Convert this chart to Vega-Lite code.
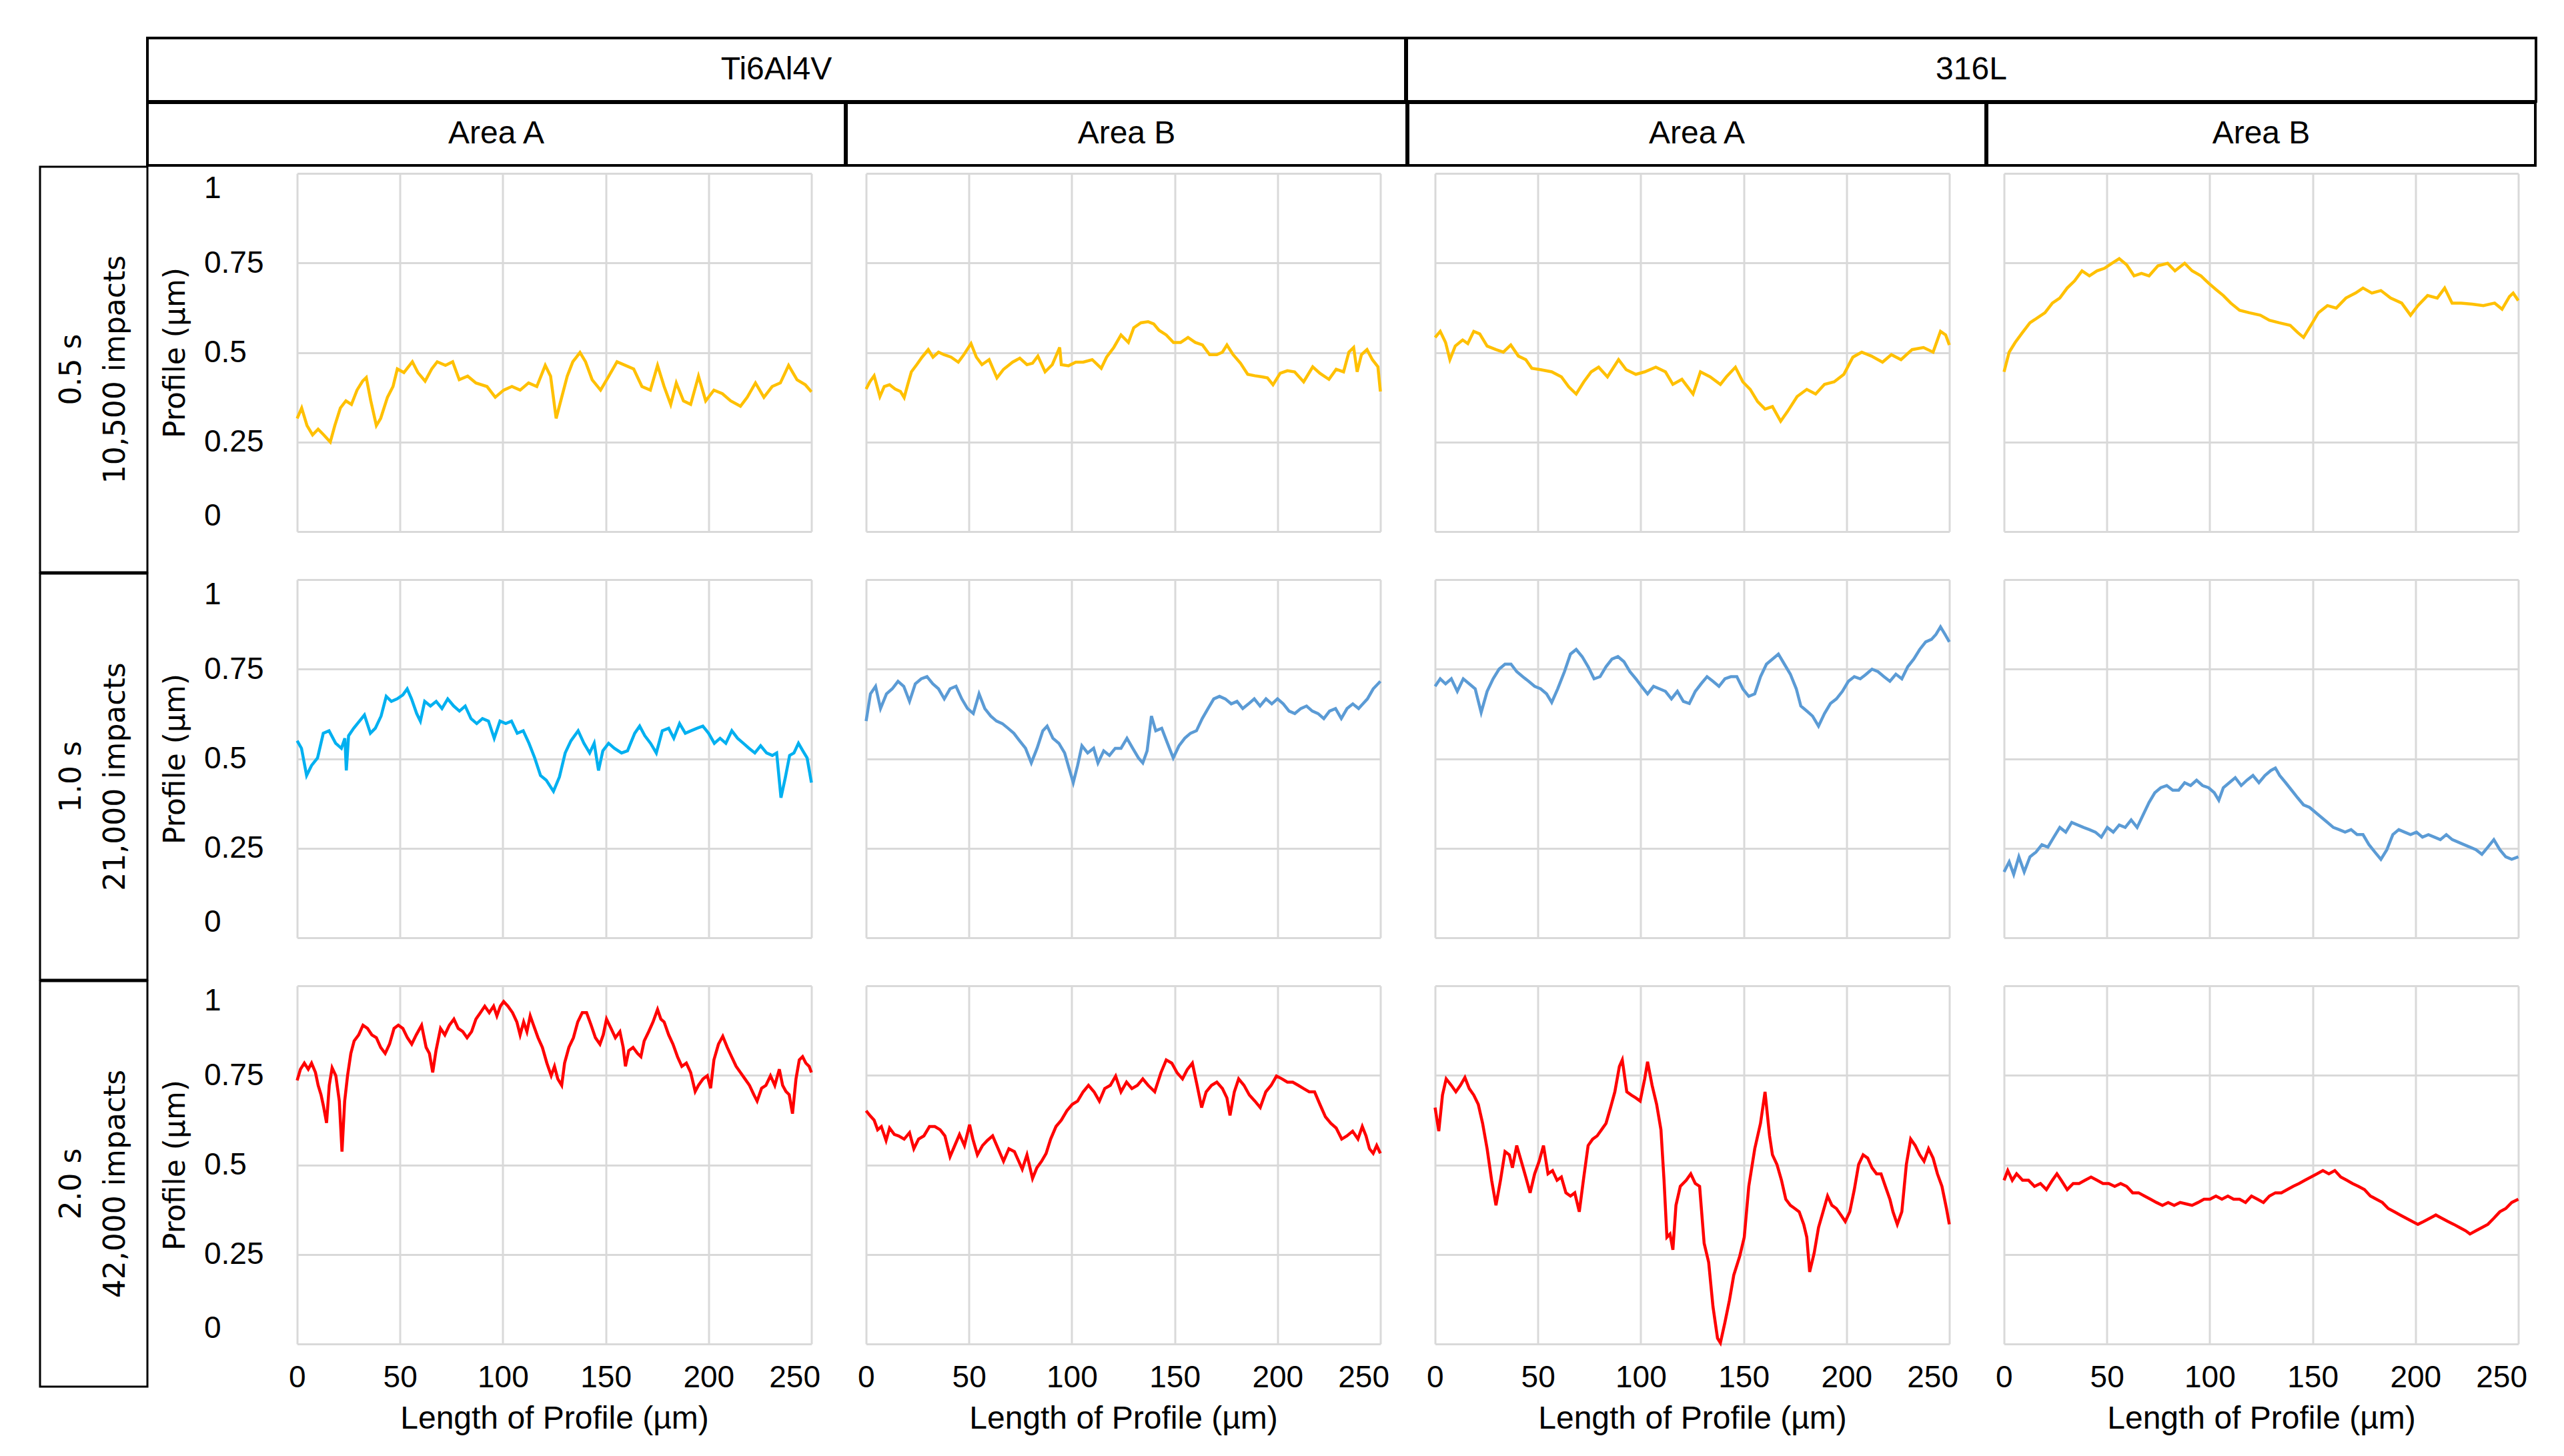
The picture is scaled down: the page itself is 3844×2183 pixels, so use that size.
{
"$schema": "https://vega.github.io/schema/vega-lite/v6.json",
"padding": {"left": 58, "top": 55, "right": 10, "bottom": 10},
"background": "white",
"config": {
  "view": {"stroke": null},
  "text": {"font": "Liberation Sans", "fontSize": 48, "color": "#000000"},
  "line": {"strokeWidth": 4.5},
  "axis": {"domain": false, "ticks": false, "tickSize": 0, "labels": false, "grid": true, "gridColor": "#d9d9d9", "gridWidth": 3, "labelFont": "Liberation Sans", "labelFontSize": 46, "labelColor": "#000000", "titleColor": "#000000", "titleFontWeight": "normal"},
  "axisX": {"titleFont": "Liberation Sans", "titleFontSize": 48, "titlePadding": 15},
  "axisY": {"titleFont": "DejaVu Sans", "titleFontSize": 44, "titlePadding": 20}
},
"datasets": {
"r1c1": [{"x":0,"y":0.316},{"x":2.2,"y":0.345},{"x":4.8,"y":0.296},{"x":7.5,"y":0.27},{"x":10.2,"y":0.286},{"x":12.9,"y":0.27},{"x":16.1,"y":0.25},{"x":18.3,"y":0.296},{"x":21,"y":0.345},{"x":23.7,"y":0.365},{"x":26.4,"y":0.355},{"x":29.1,"y":0.395},{"x":31.8,"y":0.42},{"x":33.6,"y":0.43},{"x":35.8,"y":0.365},{"x":38.5,"y":0.296},{"x":40.6,"y":0.316},{"x":43.9,"y":0.375},{"x":46.6,"y":0.405},{"x":48.7,"y":0.454},{"x":51.9,"y":0.444},{"x":56,"y":0.474},{"x":58.7,"y":0.444},{"x":62.2,"y":0.42},{"x":65.4,"y":0.454},{"x":68.1,"y":0.474},{"x":72.1,"y":0.464},{"x":75.6,"y":0.474},{"x":78.8,"y":0.424},{"x":82.9,"y":0.434},{"x":86.9,"y":0.415},{"x":92.3,"y":0.405},{"x":96.3,"y":0.375},{"x":100.4,"y":0.395},{"x":104.4,"y":0.405},{"x":108.4,"y":0.395},{"x":112.5,"y":0.415},{"x":116.5,"y":0.405},{"x":120.6,"y":0.464},{"x":123.2,"y":0.434},{"x":125.9,"y":0.316},{"x":128.6,"y":0.375},{"x":131.3,"y":0.434},{"x":134,"y":0.474},{"x":137.5,"y":0.5},{"x":140.2,"y":0.474},{"x":143.4,"y":0.424},{"x":147.5,"y":0.395},{"x":151.5,"y":0.434},{"x":155.5,"y":0.474},{"x":159.6,"y":0.464},{"x":163.6,"y":0.454},{"x":167.6,"y":0.405},{"x":171.7,"y":0.395},{"x":175.2,"y":0.464},{"x":178.4,"y":0.405},{"x":181.6,"y":0.355},{"x":184.3,"y":0.415},{"x":187.8,"y":0.365},{"x":191.3,"y":0.355},{"x":195.1,"y":0.434},{"x":198.6,"y":0.365},{"x":202.6,"y":0.395},{"x":206.7,"y":0.385},{"x":210.7,"y":0.365},{"x":215.5,"y":0.35},{"x":218.8,"y":0.375},{"x":222.8,"y":0.415},{"x":226.9,"y":0.375},{"x":230.9,"y":0.405},{"x":234.9,"y":0.415},{"x":238.9,"y":0.464},{"x":243,"y":0.424},{"x":247,"y":0.41},{"x":250,"y":0.39}],
"r1c2": [{"x":0,"y":0.398},{"x":1.8,"y":0.418},{"x":3.9,"y":0.435},{"x":6.7,"y":0.377},{"x":8.8,"y":0.405},{"x":11.4,"y":0.41},{"x":14.1,"y":0.398},{"x":16.7,"y":0.391},{"x":18.5,"y":0.374},{"x":20.2,"y":0.41},{"x":22,"y":0.446},{"x":24.6,"y":0.466},{"x":27.2,"y":0.487},{"x":30.2,"y":0.508},{"x":32.5,"y":0.487},{"x":35.2,"y":0.501},{"x":37.8,"y":0.494},{"x":41.3,"y":0.487},{"x":44.8,"y":0.473},{"x":47.5,"y":0.494},{"x":51,"y":0.525},{"x":53.6,"y":0.487},{"x":56.3,"y":0.466},{"x":59.8,"y":0.48},{"x":63.6,"y":0.429},{"x":66.8,"y":0.453},{"x":71.2,"y":0.473},{"x":74.7,"y":0.484},{"x":78.2,"y":0.466},{"x":80.9,"y":0.47},{"x":83.5,"y":0.49},{"x":87,"y":0.446},{"x":90.5,"y":0.466},{"x":94.1,"y":0.514},{"x":94.9,"y":0.466},{"x":98.4,"y":0.463},{"x":101.9,"y":0.473},{"x":105.5,"y":0.473},{"x":109.9,"y":0.48},{"x":114.3,"y":0.456},{"x":116.9,"y":0.487},{"x":120.4,"y":0.514},{"x":123.9,"y":0.549},{"x":127.5,"y":0.528},{"x":130.1,"y":0.569},{"x":133.6,"y":0.583},{"x":137.1,"y":0.586},{"x":139.8,"y":0.58},{"x":142.4,"y":0.562},{"x":145.9,"y":0.549},{"x":149.4,"y":0.528},{"x":152.9,"y":0.528},{"x":156.5,"y":0.542},{"x":160,"y":0.528},{"x":163.5,"y":0.521},{"x":167,"y":0.494},{"x":170.5,"y":0.494},{"x":173.2,"y":0.501},{"x":175.4,"y":0.521},{"x":178.4,"y":0.494},{"x":182,"y":0.47},{"x":185.5,"y":0.439},{"x":189,"y":0.435},{"x":192.5,"y":0.432},{"x":195.1,"y":0.429},{"x":197.8,"y":0.41},{"x":201.3,"y":0.442},{"x":204.8,"y":0.449},{"x":208.3,"y":0.446},{"x":212.7,"y":0.418},{"x":217.1,"y":0.46},{"x":220.6,"y":0.442},{"x":225,"y":0.425},{"x":228.5,"y":0.453},{"x":232.1,"y":0.446},{"x":234.7,"y":0.501},{"x":237,"y":0.514},{"x":238.7,"y":0.446},{"x":240.8,"y":0.494},{"x":243.5,"y":0.508},{"x":246.1,"y":0.48},{"x":248.8,"y":0.46},{"x":250,"y":0.391}],
"r1c3": [{"x":0,"y":0.542},{"x":2.5,"y":0.559},{"x":5.1,"y":0.528},{"x":7.2,"y":0.48},{"x":9.8,"y":0.518},{"x":13.4,"y":0.535},{"x":15.9,"y":0.525},{"x":18.8,"y":0.559},{"x":21.7,"y":0.552},{"x":25.3,"y":0.518},{"x":29.6,"y":0.508},{"x":33.2,"y":0.501},{"x":36.8,"y":0.521},{"x":40.5,"y":0.49},{"x":44.1,"y":0.48},{"x":47,"y":0.456},{"x":51.3,"y":0.452},{"x":56.7,"y":0.446},{"x":61.4,"y":0.432},{"x":65,"y":0.404},{"x":68.6,"y":0.384},{"x":72.3,"y":0.418},{"x":75.9,"y":0.446},{"x":79.5,"y":0.459},{"x":83.8,"y":0.432},{"x":89.2,"y":0.48},{"x":92.9,"y":0.452},{"x":97.6,"y":0.439},{"x":101.9,"y":0.446},{"x":107.3,"y":0.459},{"x":112,"y":0.446},{"x":115.6,"y":0.411},{"x":120,"y":0.425},{"x":125.4,"y":0.384},{"x":129,"y":0.446},{"x":133.7,"y":0.432},{"x":138.7,"y":0.411},{"x":141.6,"y":0.432},{"x":146,"y":0.459},{"x":149.6,"y":0.418},{"x":153.2,"y":0.397},{"x":156.8,"y":0.363},{"x":160.4,"y":0.342},{"x":164,"y":0.349},{"x":168,"y":0.308},{"x":171.3,"y":0.335},{"x":176,"y":0.377},{"x":180.7,"y":0.397},{"x":185,"y":0.384},{"x":189.3,"y":0.411},{"x":194,"y":0.418},{"x":198.7,"y":0.439},{"x":203.1,"y":0.487},{"x":207.4,"y":0.501},{"x":212.1,"y":0.49},{"x":217.5,"y":0.473},{"x":221.8,"y":0.494},{"x":226.5,"y":0.48},{"x":231.9,"y":0.508},{"x":237.4,"y":0.514},{"x":242.1,"y":0.501},{"x":245.7,"y":0.559},{"x":248.2,"y":0.549},{"x":250,"y":0.521}],
"r1c4": [{"x":0,"y":0.446},{"x":2.5,"y":0.501},{"x":5.4,"y":0.528},{"x":9,"y":0.556},{"x":12.6,"y":0.583},{"x":16.3,"y":0.597},{"x":19.9,"y":0.611},{"x":23.5,"y":0.638},{"x":27.1,"y":0.652},{"x":30.7,"y":0.68},{"x":34.3,"y":0.7},{"x":37.9,"y":0.728},{"x":41.5,"y":0.714},{"x":45.2,"y":0.728},{"x":48.8,"y":0.735},{"x":52.4,"y":0.749},{"x":56,"y":0.762},{"x":59.6,"y":0.745},{"x":63.2,"y":0.714},{"x":66.8,"y":0.721},{"x":70.5,"y":0.714},{"x":74.8,"y":0.742},{"x":79.5,"y":0.749},{"x":83.1,"y":0.728},{"x":87.8,"y":0.749},{"x":91.4,"y":0.728},{"x":95.7,"y":0.714},{"x":99.4,"y":0.694},{"x":103,"y":0.676},{"x":106.6,"y":0.659},{"x":110.2,"y":0.638},{"x":114.5,"y":0.618},{"x":119.2,"y":0.611},{"x":124.6,"y":0.604},{"x":129,"y":0.59},{"x":133.7,"y":0.583},{"x":139.1,"y":0.576},{"x":142.7,"y":0.556},{"x":145.6,"y":0.542},{"x":149.2,"y":0.576},{"x":152.8,"y":0.611},{"x":157.2,"y":0.631},{"x":161.5,"y":0.624},{"x":166.2,"y":0.652},{"x":170.9,"y":0.666},{"x":174.5,"y":0.68},{"x":178.8,"y":0.666},{"x":183.2,"y":0.673},{"x":187.9,"y":0.652},{"x":193.3,"y":0.638},{"x":197.6,"y":0.604},{"x":201.2,"y":0.631},{"x":205.9,"y":0.659},{"x":210.6,"y":0.652},{"x":214.2,"y":0.68},{"x":217.8,"y":0.638},{"x":222.2,"y":0.638},{"x":227.6,"y":0.635},{"x":233,"y":0.631},{"x":238.5,"y":0.638},{"x":242.1,"y":0.621},{"x":245.7,"y":0.656},{"x":247.5,"y":0.666},{"x":250,"y":0.645}],
"r2c1": [{"x":0,"y":0.55},{"x":2.1,"y":0.529},{"x":4.6,"y":0.453},{"x":7,"y":0.481},{"x":9.9,"y":0.502},{"x":12.7,"y":0.571},{"x":15.5,"y":0.578},{"x":18.7,"y":0.543},{"x":21.5,"y":0.529},{"x":23.2,"y":0.557},{"x":23.9,"y":0.467},{"x":25,"y":0.564},{"x":27.5,"y":0.585},{"x":30.3,"y":0.605},{"x":32.7,"y":0.622},{"x":35.6,"y":0.571},{"x":38,"y":0.585},{"x":40.8,"y":0.619},{"x":43.3,"y":0.674},{"x":45.8,"y":0.66},{"x":48.6,"y":0.667},{"x":51.4,"y":0.678},{"x":53.5,"y":0.695},{"x":55.6,"y":0.667},{"x":58.1,"y":0.626},{"x":59.9,"y":0.605},{"x":62,"y":0.66},{"x":64.8,"y":0.647},{"x":67.6,"y":0.66},{"x":70.4,"y":0.64},{"x":73.2,"y":0.667},{"x":76.1,"y":0.647},{"x":78.9,"y":0.633},{"x":81.7,"y":0.647},{"x":84.5,"y":0.612},{"x":87.3,"y":0.598},{"x":90.1,"y":0.612},{"x":93,"y":0.605},{"x":95.8,"y":0.557},{"x":98.6,"y":0.605},{"x":101.4,"y":0.598},{"x":104.2,"y":0.605},{"x":107,"y":0.571},{"x":109.9,"y":0.578},{"x":112.7,"y":0.543},{"x":115.5,"y":0.502},{"x":118.3,"y":0.453},{"x":121.1,"y":0.44},{"x":124.6,"y":0.409},{"x":127.5,"y":0.449},{"x":130.3,"y":0.516},{"x":133.1,"y":0.55},{"x":136.6,"y":0.578},{"x":139.4,"y":0.543},{"x":142.2,"y":0.516},{"x":144.4,"y":0.543},{"x":146.5,"y":0.467},{"x":148.6,"y":0.522},{"x":151.4,"y":0.543},{"x":154.2,"y":0.529},{"x":157.7,"y":0.516},{"x":160.6,"y":0.522},{"x":164.1,"y":0.571},{"x":166.5,"y":0.591},{"x":169,"y":0.564},{"x":171.8,"y":0.543},{"x":174.6,"y":0.516},{"x":177.5,"y":0.578},{"x":180.6,"y":0.585},{"x":183.1,"y":0.557},{"x":185.9,"y":0.598},{"x":188.7,"y":0.571},{"x":191.5,"y":0.578},{"x":194.4,"y":0.585},{"x":197.2,"y":0.591},{"x":200,"y":0.571},{"x":202.8,"y":0.543},{"x":205.6,"y":0.557},{"x":208.4,"y":0.543},{"x":211.3,"y":0.578},{"x":214.1,"y":0.557},{"x":216.9,"y":0.543},{"x":219.7,"y":0.529},{"x":222.5,"y":0.516},{"x":225.3,"y":0.536},{"x":228.2,"y":0.516},{"x":231,"y":0.509},{"x":233.1,"y":0.516},{"x":235.2,"y":0.391},{"x":237.3,"y":0.447},{"x":239.4,"y":0.509},{"x":241.5,"y":0.516},{"x":243.7,"y":0.543},{"x":245.8,"y":0.522},{"x":247.9,"y":0.502},{"x":250,"y":0.433}],
"r2c2": [{"x":0,"y":0.605},{"x":2.1,"y":0.681},{"x":4.6,"y":0.702},{"x":7,"y":0.64},{"x":9.9,"y":0.681},{"x":12.7,"y":0.695},{"x":15.5,"y":0.716},{"x":18.3,"y":0.702},{"x":21.1,"y":0.66},{"x":23.9,"y":0.709},{"x":26.8,"y":0.723},{"x":29.6,"y":0.729},{"x":32.4,"y":0.709},{"x":35.2,"y":0.695},{"x":38,"y":0.667},{"x":40.8,"y":0.695},{"x":43.7,"y":0.702},{"x":46.5,"y":0.667},{"x":49.3,"y":0.64},{"x":52.1,"y":0.626},{"x":54.9,"y":0.681},{"x":57.7,"y":0.64},{"x":60.6,"y":0.619},{"x":63.4,"y":0.605},{"x":66.2,"y":0.598},{"x":69,"y":0.585},{"x":71.8,"y":0.571},{"x":74.6,"y":0.55},{"x":77.5,"y":0.529},{"x":80.3,"y":0.488},{"x":83.1,"y":0.529},{"x":85.9,"y":0.578},{"x":88,"y":0.591},{"x":90.8,"y":0.557},{"x":93.7,"y":0.543},{"x":96.5,"y":0.516},{"x":98.6,"y":0.474},{"x":100.7,"y":0.433},{"x":102.8,"y":0.481},{"x":104.9,"y":0.536},{"x":107.7,"y":0.516},{"x":110.6,"y":0.529},{"x":112.7,"y":0.488},{"x":115.5,"y":0.522},{"x":118.3,"y":0.509},{"x":121.1,"y":0.529},{"x":123.9,"y":0.529},{"x":126.8,"y":0.557},{"x":129.6,"y":0.529},{"x":132.4,"y":0.502},{"x":134.5,"y":0.488},{"x":136.6,"y":0.522},{"x":138.7,"y":0.619},{"x":140.8,"y":0.578},{"x":143.7,"y":0.585},{"x":146.5,"y":0.543},{"x":149.3,"y":0.502},{"x":152.1,"y":0.536},{"x":154.9,"y":0.557},{"x":157.7,"y":0.571},{"x":160.6,"y":0.578},{"x":163.4,"y":0.612},{"x":166.2,"y":0.64},{"x":169,"y":0.667},{"x":171.8,"y":0.674},{"x":174.6,"y":0.667},{"x":177.5,"y":0.653},{"x":180.3,"y":0.66},{"x":183.1,"y":0.64},{"x":185.9,"y":0.653},{"x":188.7,"y":0.667},{"x":191.5,"y":0.647},{"x":194.4,"y":0.667},{"x":197.2,"y":0.653},{"x":200,"y":0.667},{"x":202.8,"y":0.653},{"x":205.6,"y":0.633},{"x":208.4,"y":0.626},{"x":211.3,"y":0.64},{"x":214.1,"y":0.647},{"x":216.9,"y":0.633},{"x":219.7,"y":0.626},{"x":222.5,"y":0.612},{"x":225.3,"y":0.633},{"x":228.2,"y":0.64},{"x":231,"y":0.612},{"x":233.8,"y":0.64},{"x":236.6,"y":0.653},{"x":239.4,"y":0.64},{"x":241.5,"y":0.653},{"x":243.7,"y":0.667},{"x":246.5,"y":0.695},{"x":250,"y":0.716}],
"r2c3": [{"x":0,"y":0.702},{"x":2.5,"y":0.723},{"x":5.1,"y":0.709},{"x":7.9,"y":0.723},{"x":10.8,"y":0.688},{"x":13.7,"y":0.723},{"x":16.6,"y":0.709},{"x":19.5,"y":0.695},{"x":22.4,"y":0.629},{"x":25.3,"y":0.688},{"x":28.2,"y":0.723},{"x":31.1,"y":0.75},{"x":34,"y":0.764},{"x":36.9,"y":0.764},{"x":39.7,"y":0.743},{"x":42.6,"y":0.729},{"x":45.5,"y":0.716},{"x":48.4,"y":0.702},{"x":51.3,"y":0.695},{"x":54.2,"y":0.681},{"x":56.7,"y":0.657},{"x":59.6,"y":0.695},{"x":62.9,"y":0.743},{"x":65.8,"y":0.792},{"x":68.6,"y":0.805},{"x":71.5,"y":0.785},{"x":74.4,"y":0.757},{"x":77.3,"y":0.723},{"x":80.2,"y":0.729},{"x":83.1,"y":0.757},{"x":86,"y":0.778},{"x":88.9,"y":0.785},{"x":91.8,"y":0.771},{"x":94.7,"y":0.743},{"x":97.6,"y":0.723},{"x":100.4,"y":0.702},{"x":103.3,"y":0.681},{"x":106.2,"y":0.702},{"x":109.1,"y":0.695},{"x":112,"y":0.688},{"x":114.9,"y":0.667},{"x":117.8,"y":0.688},{"x":120.7,"y":0.66},{"x":123.6,"y":0.654},{"x":126.5,"y":0.688},{"x":129.3,"y":0.709},{"x":132.2,"y":0.729},{"x":135.1,"y":0.716},{"x":138,"y":0.702},{"x":140.9,"y":0.723},{"x":143.8,"y":0.729},{"x":146.7,"y":0.729},{"x":149.6,"y":0.695},{"x":152.5,"y":0.674},{"x":155.4,"y":0.681},{"x":158.2,"y":0.729},{"x":161.1,"y":0.764},{"x":164,"y":0.778},{"x":166.9,"y":0.792},{"x":169.8,"y":0.764},{"x":172.7,"y":0.736},{"x":175.6,"y":0.695},{"x":177.8,"y":0.647},{"x":180.7,"y":0.633},{"x":183.5,"y":0.619},{"x":186.4,"y":0.591},{"x":189.3,"y":0.626},{"x":192.2,"y":0.654},{"x":195.1,"y":0.667},{"x":198,"y":0.688},{"x":200.9,"y":0.716},{"x":203.8,"y":0.729},{"x":206.7,"y":0.723},{"x":209.6,"y":0.736},{"x":212.4,"y":0.75},{"x":215.3,"y":0.743},{"x":218.2,"y":0.729},{"x":221.1,"y":0.716},{"x":224,"y":0.736},{"x":226.9,"y":0.723},{"x":229.8,"y":0.757},{"x":232.7,"y":0.778},{"x":235.6,"y":0.805},{"x":238.5,"y":0.826},{"x":241.3,"y":0.833},{"x":243.5,"y":0.847},{"x":245.7,"y":0.868},{"x":247.9,"y":0.847},{"x":250,"y":0.826}],
"r2c4": [{"x":0,"y":0.184},{"x":2.5,"y":0.212},{"x":4.7,"y":0.177},{"x":7.2,"y":0.226},{"x":9.8,"y":0.184},{"x":12.6,"y":0.226},{"x":15.5,"y":0.239},{"x":18.4,"y":0.26},{"x":21.3,"y":0.253},{"x":24.2,"y":0.281},{"x":27.1,"y":0.308},{"x":30,"y":0.295},{"x":32.9,"y":0.322},{"x":35.8,"y":0.315},{"x":38.7,"y":0.308},{"x":41.5,"y":0.302},{"x":44.4,"y":0.295},{"x":47.3,"y":0.281},{"x":50.2,"y":0.308},{"x":53.1,"y":0.295},{"x":56,"y":0.315},{"x":58.9,"y":0.308},{"x":61.8,"y":0.329},{"x":64.7,"y":0.308},{"x":67.6,"y":0.343},{"x":70.5,"y":0.378},{"x":73.3,"y":0.405},{"x":76.2,"y":0.419},{"x":79.1,"y":0.425},{"x":82,"y":0.412},{"x":84.9,"y":0.412},{"x":87.8,"y":0.433},{"x":90.7,"y":0.425},{"x":93.6,"y":0.44},{"x":96.5,"y":0.425},{"x":99.4,"y":0.419},{"x":102.2,"y":0.405},{"x":104.4,"y":0.384},{"x":106.6,"y":0.419},{"x":109.5,"y":0.433},{"x":112.4,"y":0.447},{"x":115.3,"y":0.425},{"x":118.1,"y":0.44},{"x":121,"y":0.453},{"x":123.9,"y":0.433},{"x":126.8,"y":0.453},{"x":129.7,"y":0.467},{"x":131.9,"y":0.474},{"x":134,"y":0.453},{"x":136.9,"y":0.433},{"x":139.8,"y":0.412},{"x":142.7,"y":0.391},{"x":145.6,"y":0.371},{"x":148.5,"y":0.364},{"x":151.4,"y":0.35},{"x":154.3,"y":0.336},{"x":157.2,"y":0.322},{"x":160.1,"y":0.308},{"x":162.9,"y":0.302},{"x":165.8,"y":0.295},{"x":168.7,"y":0.302},{"x":171.6,"y":0.288},{"x":174.5,"y":0.288},{"x":177.4,"y":0.26},{"x":180.3,"y":0.239},{"x":183.2,"y":0.219},{"x":186.1,"y":0.246},{"x":189,"y":0.288},{"x":191.9,"y":0.302},{"x":194.7,"y":0.295},{"x":197.6,"y":0.288},{"x":200.5,"y":0.295},{"x":203.4,"y":0.281},{"x":206.3,"y":0.288},{"x":209.2,"y":0.281},{"x":212.1,"y":0.274},{"x":215,"y":0.288},{"x":217.9,"y":0.274},{"x":220.8,"y":0.267},{"x":223.6,"y":0.26},{"x":226.5,"y":0.253},{"x":229.4,"y":0.246},{"x":232.3,"y":0.233},{"x":235.2,"y":0.253},{"x":238.1,"y":0.274},{"x":241,"y":0.246},{"x":243.9,"y":0.226},{"x":246.8,"y":0.219},{"x":250,"y":0.226}],
"r3c1": [{"x":0,"y":0.736},{"x":1.6,"y":0.767},{"x":3.5,"y":0.784},{"x":5.4,"y":0.767},{"x":7,"y":0.784},{"x":8.9,"y":0.758},{"x":10.2,"y":0.722},{"x":11.6,"y":0.696},{"x":12.9,"y":0.661},{"x":14.3,"y":0.617},{"x":15.6,"y":0.722},{"x":17,"y":0.771},{"x":18.8,"y":0.749},{"x":20.5,"y":0.678},{"x":21.8,"y":0.537},{"x":23.1,"y":0.678},{"x":24.5,"y":0.749},{"x":26.1,"y":0.811},{"x":27.7,"y":0.846},{"x":29.9,"y":0.863},{"x":32,"y":0.89},{"x":34.2,"y":0.881},{"x":36.3,"y":0.863},{"x":38.5,"y":0.855},{"x":40.6,"y":0.828},{"x":42.8,"y":0.811},{"x":44.9,"y":0.837},{"x":47.1,"y":0.881},{"x":49.2,"y":0.89},{"x":51.4,"y":0.881},{"x":53.6,"y":0.855},{"x":55.7,"y":0.837},{"x":57.9,"y":0.863},{"x":60.5,"y":0.89},{"x":62.7,"y":0.828},{"x":64.3,"y":0.811},{"x":65.9,"y":0.758},{"x":67.5,"y":0.819},{"x":69.7,"y":0.881},{"x":71.8,"y":0.863},{"x":74,"y":0.89},{"x":76.2,"y":0.907},{"x":78.3,"y":0.881},{"x":80.5,"y":0.872},{"x":82.6,"y":0.855},{"x":84.8,"y":0.872},{"x":86.9,"y":0.907},{"x":89.1,"y":0.925},{"x":91.2,"y":0.943},{"x":93.4,"y":0.925},{"x":95.5,"y":0.943},{"x":97.1,"y":0.916},{"x":98.8,"y":0.943},{"x":100.4,"y":0.956},{"x":102.5,"y":0.943},{"x":104.7,"y":0.925},{"x":106.8,"y":0.899},{"x":108.4,"y":0.863},{"x":110.1,"y":0.899},{"x":111.7,"y":0.872},{"x":113.3,"y":0.916},{"x":114.9,"y":0.89},{"x":117.1,"y":0.855},{"x":119.2,"y":0.828},{"x":121.4,"y":0.784},{"x":123.5,"y":0.749},{"x":125.1,"y":0.775},{"x":126.7,"y":0.74},{"x":128.6,"y":0.722},{"x":130,"y":0.784},{"x":132.1,"y":0.828},{"x":134.3,"y":0.855},{"x":136.4,"y":0.899},{"x":138.6,"y":0.925},{"x":140.7,"y":0.925},{"x":142.9,"y":0.89},{"x":145,"y":0.855},{"x":147.2,"y":0.837},{"x":148.8,"y":0.863},{"x":150.4,"y":0.907},{"x":152.6,"y":0.881},{"x":154.7,"y":0.855},{"x":156.9,"y":0.872},{"x":158.5,"y":0.828},{"x":159.6,"y":0.775},{"x":161.2,"y":0.819},{"x":163.3,"y":0.828},{"x":165.5,"y":0.811},{"x":167.1,"y":0.802},{"x":168.7,"y":0.846},{"x":170.9,"y":0.872},{"x":173,"y":0.899},{"x":175.2,"y":0.934},{"x":176.8,"y":0.907},{"x":178.4,"y":0.899},{"x":180.6,"y":0.863},{"x":182.7,"y":0.837},{"x":184.9,"y":0.802},{"x":187,"y":0.775},{"x":189.2,"y":0.784},{"x":191.3,"y":0.758},{"x":193.5,"y":0.705},{"x":195.1,"y":0.722},{"x":197.3,"y":0.74},{"x":199.4,"y":0.749},{"x":201,"y":0.714},{"x":202.6,"y":0.793},{"x":204.8,"y":0.837},{"x":206.9,"y":0.859},{"x":209.1,"y":0.828},{"x":211.2,"y":0.802},{"x":213.4,"y":0.775},{"x":215.5,"y":0.758},{"x":217.7,"y":0.74},{"x":219.9,"y":0.722},{"x":222,"y":0.696},{"x":223.6,"y":0.678},{"x":225.8,"y":0.714},{"x":227.9,"y":0.722},{"x":230.1,"y":0.749},{"x":232.2,"y":0.722},{"x":234.4,"y":0.767},{"x":236,"y":0.722},{"x":237.6,"y":0.705},{"x":239.2,"y":0.696},{"x":240.8,"y":0.643},{"x":242.5,"y":0.74},{"x":244.1,"y":0.793},{"x":245.7,"y":0.802},{"x":247.3,"y":0.784},{"x":248.9,"y":0.775},{"x":250,"y":0.758}],
"r3c2": [{"x":0,"y":0.651},{"x":1.8,"y":0.638},{"x":3.9,"y":0.625},{"x":5.6,"y":0.598},{"x":7.4,"y":0.607},{"x":9.7,"y":0.568},{"x":11.4,"y":0.603},{"x":13.7,"y":0.585},{"x":15.8,"y":0.581},{"x":18.5,"y":0.572},{"x":21.1,"y":0.59},{"x":23.2,"y":0.545},{"x":25.5,"y":0.572},{"x":28.1,"y":0.581},{"x":30.8,"y":0.607},{"x":33.4,"y":0.607},{"x":36,"y":0.598},{"x":38.3,"y":0.581},{"x":40.8,"y":0.523},{"x":43.1,"y":0.554},{"x":45.4,"y":0.585},{"x":47.8,"y":0.554},{"x":50.3,"y":0.612},{"x":51.9,"y":0.572},{"x":54.1,"y":0.528},{"x":56.6,"y":0.554},{"x":58.9,"y":0.568},{"x":61.5,"y":0.581},{"x":64.2,"y":0.545},{"x":66.8,"y":0.51},{"x":69.4,"y":0.545},{"x":72.1,"y":0.537},{"x":74.2,"y":0.51},{"x":75.9,"y":0.488},{"x":78.2,"y":0.528},{"x":80.9,"y":0.462},{"x":83,"y":0.492},{"x":85.3,"y":0.51},{"x":87.5,"y":0.532},{"x":89.7,"y":0.572},{"x":92.3,"y":0.607},{"x":94.9,"y":0.625},{"x":97.6,"y":0.651},{"x":100.2,"y":0.669},{"x":102.8,"y":0.678},{"x":105.5,"y":0.704},{"x":108.1,"y":0.722},{"x":110.8,"y":0.704},{"x":113.4,"y":0.678},{"x":116,"y":0.713},{"x":118.7,"y":0.722},{"x":121.3,"y":0.748},{"x":123.9,"y":0.704},{"x":126.6,"y":0.731},{"x":129.2,"y":0.713},{"x":131.9,"y":0.722},{"x":134.5,"y":0.74},{"x":137.1,"y":0.722},{"x":140.3,"y":0.704},{"x":143.3,"y":0.757},{"x":145.9,"y":0.793},{"x":148.6,"y":0.784},{"x":151.2,"y":0.757},{"x":153.8,"y":0.74},{"x":156.1,"y":0.766},{"x":158.6,"y":0.784},{"x":160.9,"y":0.722},{"x":163.1,"y":0.66},{"x":165.3,"y":0.704},{"x":167.9,"y":0.722},{"x":170.5,"y":0.731},{"x":173.2,"y":0.713},{"x":175.4,"y":0.687},{"x":176.9,"y":0.638},{"x":179,"y":0.704},{"x":181.1,"y":0.74},{"x":183.7,"y":0.722},{"x":186.3,"y":0.695},{"x":189,"y":0.678},{"x":191.6,"y":0.66},{"x":194.3,"y":0.704},{"x":196.9,"y":0.722},{"x":199.5,"y":0.748},{"x":202.2,"y":0.74},{"x":204.8,"y":0.731},{"x":207.4,"y":0.731},{"x":210.1,"y":0.722},{"x":212.7,"y":0.713},{"x":215.4,"y":0.704},{"x":218,"y":0.704},{"x":220.6,"y":0.669},{"x":223.3,"y":0.634},{"x":225.9,"y":0.616},{"x":228.5,"y":0.603},{"x":231.2,"y":0.572},{"x":233.8,"y":0.581},{"x":236.5,"y":0.594},{"x":239.1,"y":0.572},{"x":241.2,"y":0.607},{"x":243,"y":0.581},{"x":244.7,"y":0.545},{"x":246.5,"y":0.532},{"x":248.2,"y":0.554},{"x":250,"y":0.532}],
"r3c3": [{"x":0,"y":0.66},{"x":1.8,"y":0.594},{"x":3.6,"y":0.695},{"x":5.4,"y":0.74},{"x":7.9,"y":0.722},{"x":10.1,"y":0.704},{"x":12.3,"y":0.722},{"x":14.5,"y":0.744},{"x":16.6,"y":0.713},{"x":18.8,"y":0.695},{"x":21,"y":0.669},{"x":23.1,"y":0.616},{"x":25.3,"y":0.545},{"x":27.5,"y":0.457},{"x":29.6,"y":0.387},{"x":31.8,"y":0.457},{"x":34,"y":0.537},{"x":36.1,"y":0.528},{"x":37.6,"y":0.492},{"x":39.7,"y":0.554},{"x":41.9,"y":0.51},{"x":44.1,"y":0.466},{"x":46.2,"y":0.422},{"x":48.4,"y":0.475},{"x":50.6,"y":0.51},{"x":52.7,"y":0.554},{"x":54.9,"y":0.475},{"x":57.1,"y":0.484},{"x":59.3,"y":0.457},{"x":61.4,"y":0.466},{"x":63.6,"y":0.422},{"x":65.8,"y":0.413},{"x":67.9,"y":0.422},{"x":70.1,"y":0.369},{"x":72.3,"y":0.466},{"x":74.4,"y":0.554},{"x":76.6,"y":0.572},{"x":78.8,"y":0.581},{"x":80.9,"y":0.598},{"x":83.1,"y":0.616},{"x":85.3,"y":0.66},{"x":87.4,"y":0.704},{"x":89.6,"y":0.775},{"x":91,"y":0.793},{"x":93.2,"y":0.704},{"x":95.4,"y":0.695},{"x":97.6,"y":0.687},{"x":99.7,"y":0.678},{"x":101.9,"y":0.74},{"x":103.3,"y":0.788},{"x":105.5,"y":0.722},{"x":107.7,"y":0.669},{"x":109.8,"y":0.598},{"x":111.3,"y":0.457},{"x":112.7,"y":0.298},{"x":114.2,"y":0.307},{"x":115.6,"y":0.263},{"x":117.1,"y":0.387},{"x":119.2,"y":0.44},{"x":122.1,"y":0.457},{"x":124.3,"y":0.475},{"x":126.5,"y":0.448},{"x":128.6,"y":0.44},{"x":130.8,"y":0.281},{"x":133,"y":0.228},{"x":135.1,"y":0.104},{"x":137.3,"y":0.016},{"x":138.7,"y":0.003},{"x":140.9,"y":0.06},{"x":143.1,"y":0.122},{"x":145.2,"y":0.192},{"x":148.1,"y":0.245},{"x":150.3,"y":0.298},{"x":152.5,"y":0.44},{"x":155.4,"y":0.545},{"x":158.2,"y":0.616},{"x":160.4,"y":0.704},{"x":162.6,"y":0.581},{"x":164,"y":0.528},{"x":166.2,"y":0.501},{"x":168.4,"y":0.457},{"x":170.5,"y":0.404},{"x":172.7,"y":0.387},{"x":174.9,"y":0.378},{"x":177,"y":0.369},{"x":179.2,"y":0.334},{"x":180.7,"y":0.298},{"x":182.1,"y":0.201},{"x":184.3,"y":0.254},{"x":186.4,"y":0.325},{"x":188.6,"y":0.369},{"x":190.8,"y":0.413},{"x":192.9,"y":0.387},{"x":195.1,"y":0.378},{"x":197.3,"y":0.36},{"x":199.4,"y":0.342},{"x":201.6,"y":0.369},{"x":203.8,"y":0.431},{"x":205.9,"y":0.501},{"x":208.1,"y":0.528},{"x":210.3,"y":0.519},{"x":212.4,"y":0.492},{"x":214.6,"y":0.475},{"x":216.8,"y":0.475},{"x":218.9,"y":0.44},{"x":221.1,"y":0.404},{"x":222.6,"y":0.369},{"x":224.7,"y":0.334},{"x":226.9,"y":0.369},{"x":229.1,"y":0.501},{"x":231.2,"y":0.572},{"x":233.4,"y":0.554},{"x":235.6,"y":0.528},{"x":237.7,"y":0.51},{"x":239.9,"y":0.545},{"x":242.1,"y":0.519},{"x":244.2,"y":0.475},{"x":246.4,"y":0.44},{"x":248.6,"y":0.378},{"x":250,"y":0.334}],
"r3c4": [{"x":0,"y":0.457},{"x":1.8,"y":0.484},{"x":4,"y":0.457},{"x":6.1,"y":0.475},{"x":9,"y":0.457},{"x":11.9,"y":0.457},{"x":14.8,"y":0.44},{"x":17.7,"y":0.448},{"x":20.6,"y":0.431},{"x":23.5,"y":0.457},{"x":25.7,"y":0.475},{"x":27.8,"y":0.457},{"x":30.7,"y":0.431},{"x":33.6,"y":0.448},{"x":36.5,"y":0.448},{"x":39.4,"y":0.457},{"x":42.3,"y":0.466},{"x":45.2,"y":0.457},{"x":48.1,"y":0.448},{"x":50.9,"y":0.448},{"x":53.8,"y":0.44},{"x":56.7,"y":0.448},{"x":59.6,"y":0.44},{"x":62.5,"y":0.422},{"x":65.4,"y":0.422},{"x":68.3,"y":0.413},{"x":71.2,"y":0.404},{"x":74.1,"y":0.395},{"x":77,"y":0.387},{"x":79.8,"y":0.395},{"x":82.7,"y":0.387},{"x":85.6,"y":0.395},{"x":88.5,"y":0.391},{"x":91.4,"y":0.387},{"x":94.3,"y":0.395},{"x":97.2,"y":0.404},{"x":100.1,"y":0.404},{"x":103,"y":0.413},{"x":105.9,"y":0.404},{"x":108.8,"y":0.413},{"x":111.6,"y":0.404},{"x":114.5,"y":0.404},{"x":117.4,"y":0.395},{"x":120.3,"y":0.413},{"x":123.2,"y":0.404},{"x":126.1,"y":0.395},{"x":129,"y":0.413},{"x":131.9,"y":0.422},{"x":134.8,"y":0.422},{"x":137.7,"y":0.431},{"x":140.5,"y":0.44},{"x":143.4,"y":0.448},{"x":146.3,"y":0.457},{"x":149.2,"y":0.466},{"x":152.1,"y":0.475},{"x":155,"y":0.484},{"x":157.9,"y":0.475},{"x":160.8,"y":0.484},{"x":163.7,"y":0.466},{"x":166.6,"y":0.457},{"x":169.4,"y":0.448},{"x":172.3,"y":0.44},{"x":175.2,"y":0.431},{"x":178.1,"y":0.413},{"x":181,"y":0.404},{"x":183.9,"y":0.395},{"x":186.8,"y":0.378},{"x":189.7,"y":0.369},{"x":192.6,"y":0.36},{"x":195.5,"y":0.351},{"x":198.4,"y":0.342},{"x":201.2,"y":0.334},{"x":204.1,"y":0.342},{"x":207,"y":0.351},{"x":209.9,"y":0.36},{"x":212.8,"y":0.351},{"x":215.7,"y":0.342},{"x":218.6,"y":0.334},{"x":221.5,"y":0.325},{"x":224.4,"y":0.316},{"x":226.5,"y":0.307},{"x":229.4,"y":0.316},{"x":232.3,"y":0.325},{"x":235.2,"y":0.334},{"x":238.1,"y":0.351},{"x":241,"y":0.369},{"x":243.9,"y":0.378},{"x":246.8,"y":0.395},{"x":250,"y":0.404}]
},
"vconcat": [
  {"hconcat": [
    {"width": 161, "height": 189, "data": {"values": [{"t": ""}]}, "mark": {"type": "text", "fontSize": 1}, "encoding": {"text": {"field": "t"}}},
    {"vconcat": [
      {"hconcat": [
        {"width": 1886, "height": 95, "view": {"stroke": "#000000", "strokeWidth": 4}, "data": {"values": [{"t": "Ti6Al4V"}]}, "mark": "text", "encoding": {"text": {"field": "t"}}},
        {"width": 1693, "height": 95, "view": {"stroke": "#000000", "strokeWidth": 4}, "data": {"values": [{"t": "316L"}]}, "mark": "text", "encoding": {"text": {"field": "t"}}}
      ], "spacing": -4},
      {"hconcat": [
        {"width": 1046, "height": 94, "view": {"stroke": "#000000", "strokeWidth": 4}, "data": {"values": [{"t": "Area A"}]}, "mark": "text", "encoding": {"text": {"field": "t"}}},
        {"width": 840, "height": 94, "view": {"stroke": "#000000", "strokeWidth": 4}, "data": {"values": [{"t": "Area B"}]}, "mark": "text", "encoding": {"text": {"field": "t"}}},
        {"width": 866, "height": 94, "view": {"stroke": "#000000", "strokeWidth": 4}, "data": {"values": [{"t": "Area A"}]}, "mark": "text", "encoding": {"text": {"field": "t"}}},
        {"width": 822, "height": 94, "view": {"stroke": "#000000", "strokeWidth": 4}, "data": {"values": [{"t": "Area B"}]}, "mark": "text", "encoding": {"text": {"field": "t"}}}
      ], "spacing": -4}
    ], "spacing": -4}
  ], "spacing": -2},
  {"hconcat": [
    {"vconcat": [
      {"width": 161, "height": 608, "view": {"stroke": "#000000", "strokeWidth": 3}, "data": {"values": [{"t": ["0.5 s", "10,500 impacts"]}]}, "mark": {"type": "text", "angle": 270, "font": "DejaVu Sans", "fontSize": 44, "lineHeight": 66, "dy": -33}, "encoding": {"text": {"field": "t"}}},
      {"width": 161, "height": 609, "view": {"stroke": "#000000", "strokeWidth": 3}, "data": {"values": [{"t": ["1.0 s", "21,000 impacts"]}]}, "mark": {"type": "text", "angle": 270, "font": "DejaVu Sans", "fontSize": 44, "lineHeight": 66, "dy": -33}, "encoding": {"text": {"field": "t"}}},
      {"width": 161, "height": 608, "view": {"stroke": "#000000", "strokeWidth": 3}, "data": {"values": [{"t": ["2.0 s", "42,000 impacts"]}]}, "mark": {"type": "text", "angle": 270, "font": "DejaVu Sans", "fontSize": 44, "lineHeight": 66, "dy": -33}, "encoding": {"text": {"field": "t"}}}
    ], "spacing": -5},
    {"vconcat": [
      {"width": 1, "height": 1, "data": {"values": [{"t": ""}]}, "mark": {"type": "text", "fontSize": 1}, "encoding": {"text": {"field": "t"}}},
      {"concat": [
        {"width": 771, "height": 537, "data": {"name": "r1c1"}, "mark": {"type": "line", "color": "#ffc000"}, "encoding": {"x": {"field": "x", "type": "quantitative", "scale": {"domain": [0, 250]}, "axis": {"values": [0, 50, 100, 150, 200, 250], "title": null}}, "y": {"field": "y", "type": "quantitative", "scale": {"domain": [0, 1]}, "axis": {"values": [0, 0.25, 0.5, 0.75, 1], "labels": true, "labelExpr": "format(datum.value, '~g')", "labelAlign": "left", "labelPadding": 140, "labelFlush": true, "title": "Profile (µm)"}}}},
        {"width": 771, "height": 537, "data": {"name": "r1c2"}, "mark": {"type": "line", "color": "#ffc000"}, "encoding": {"x": {"field": "x", "type": "quantitative", "scale": {"domain": [0, 250]}, "axis": {"values": [0, 50, 100, 150, 200, 250], "title": null}}, "y": {"field": "y", "type": "quantitative", "scale": {"domain": [0, 1]}, "axis": {"values": [0, 0.25, 0.5, 0.75, 1], "title": null}}}},
        {"width": 771, "height": 537, "data": {"name": "r1c3"}, "mark": {"type": "line", "color": "#ffc000"}, "encoding": {"x": {"field": "x", "type": "quantitative", "scale": {"domain": [0, 250]}, "axis": {"values": [0, 50, 100, 150, 200, 250], "title": null}}, "y": {"field": "y", "type": "quantitative", "scale": {"domain": [0, 1]}, "axis": {"values": [0, 0.25, 0.5, 0.75, 1], "title": null}}}},
        {"width": 771, "height": 537, "data": {"name": "r1c4"}, "mark": {"type": "line", "color": "#ffc000"}, "encoding": {"x": {"field": "x", "type": "quantitative", "scale": {"domain": [0, 250]}, "axis": {"values": [0, 50, 100, 150, 200, 250], "title": null}}, "y": {"field": "y", "type": "quantitative", "scale": {"domain": [0, 1]}, "axis": {"values": [0, 0.25, 0.5, 0.75, 1], "title": null}}}},
        {"width": 771, "height": 537, "data": {"name": "r2c1"}, "mark": {"type": "line", "color": "#00b0f0"}, "encoding": {"x": {"field": "x", "type": "quantitative", "scale": {"domain": [0, 250]}, "axis": {"values": [0, 50, 100, 150, 200, 250], "title": null}}, "y": {"field": "y", "type": "quantitative", "scale": {"domain": [0, 1]}, "axis": {"values": [0, 0.25, 0.5, 0.75, 1], "labels": true, "labelExpr": "format(datum.value, '~g')", "labelAlign": "left", "labelPadding": 140, "labelFlush": true, "title": "Profile (µm)"}}}},
        {"width": 771, "height": 537, "data": {"name": "r2c2"}, "mark": {"type": "line", "color": "#5b9bd5"}, "encoding": {"x": {"field": "x", "type": "quantitative", "scale": {"domain": [0, 250]}, "axis": {"values": [0, 50, 100, 150, 200, 250], "title": null}}, "y": {"field": "y", "type": "quantitative", "scale": {"domain": [0, 1]}, "axis": {"values": [0, 0.25, 0.5, 0.75, 1], "title": null}}}},
        {"width": 771, "height": 537, "data": {"name": "r2c3"}, "mark": {"type": "line", "color": "#5b9bd5"}, "encoding": {"x": {"field": "x", "type": "quantitative", "scale": {"domain": [0, 250]}, "axis": {"values": [0, 50, 100, 150, 200, 250], "title": null}}, "y": {"field": "y", "type": "quantitative", "scale": {"domain": [0, 1]}, "axis": {"values": [0, 0.25, 0.5, 0.75, 1], "title": null}}}},
        {"width": 771, "height": 537, "data": {"name": "r2c4"}, "mark": {"type": "line", "color": "#5b9bd5"}, "encoding": {"x": {"field": "x", "type": "quantitative", "scale": {"domain": [0, 250]}, "axis": {"values": [0, 50, 100, 150, 200, 250], "title": null}}, "y": {"field": "y", "type": "quantitative", "scale": {"domain": [0, 1]}, "axis": {"values": [0, 0.25, 0.5, 0.75, 1], "title": null}}}},
        {"width": 771, "height": 537, "data": {"name": "r3c1"}, "mark": {"type": "line", "color": "#ff0000"}, "encoding": {"x": {"field": "x", "type": "quantitative", "scale": {"domain": [0, 250]}, "axis": {"values": [0, 50, 100, 150, 200, 250], "labels": true, "format": "d", "labelFlush": true, "labelFlushOffset": 13, "labelPadding": 28, "title": "Length of Profile (µm)"}}, "y": {"field": "y", "type": "quantitative", "scale": {"domain": [0, 1]}, "axis": {"values": [0, 0.25, 0.5, 0.75, 1], "labels": true, "labelExpr": "format(datum.value, '~g')", "labelAlign": "left", "labelPadding": 140, "labelFlush": true, "title": "Profile (µm)"}}}},
        {"width": 771, "height": 537, "data": {"name": "r3c2"}, "mark": {"type": "line", "color": "#ff0000"}, "encoding": {"x": {"field": "x", "type": "quantitative", "scale": {"domain": [0, 250]}, "axis": {"values": [0, 50, 100, 150, 200, 250], "labels": true, "format": "d", "labelFlush": true, "labelFlushOffset": 13, "labelPadding": 28, "title": "Length of Profile (µm)"}}, "y": {"field": "y", "type": "quantitative", "scale": {"domain": [0, 1]}, "axis": {"values": [0, 0.25, 0.5, 0.75, 1], "title": null}}}},
        {"width": 771, "height": 537, "data": {"name": "r3c3"}, "mark": {"type": "line", "color": "#ff0000"}, "encoding": {"x": {"field": "x", "type": "quantitative", "scale": {"domain": [0, 250]}, "axis": {"values": [0, 50, 100, 150, 200, 250], "labels": true, "format": "d", "labelFlush": true, "labelFlushOffset": 13, "labelPadding": 28, "title": "Length of Profile (µm)"}}, "y": {"field": "y", "type": "quantitative", "scale": {"domain": [0, 1]}, "axis": {"values": [0, 0.25, 0.5, 0.75, 1], "title": null}}}},
        {"width": 771, "height": 537, "data": {"name": "r3c4"}, "mark": {"type": "line", "color": "#ff0000"}, "encoding": {"x": {"field": "x", "type": "quantitative", "scale": {"domain": [0, 250]}, "axis": {"values": [0, 50, 100, 150, 200, 250], "labels": true, "format": "d", "labelFlush": true, "labelFlushOffset": 13, "labelPadding": 28, "title": "Length of Profile (µm)"}}, "y": {"field": "y", "type": "quantitative", "scale": {"domain": [0, 1]}, "axis": {"values": [0, 0.25, 0.5, 0.75, 1], "title": null}}}}
      ], "columns": 4, "align": "each", "spacing": {"row": 71, "column": 56}}
    ], "spacing": 8}
  ], "spacing": 18.5}
],
"spacing": -4
}
